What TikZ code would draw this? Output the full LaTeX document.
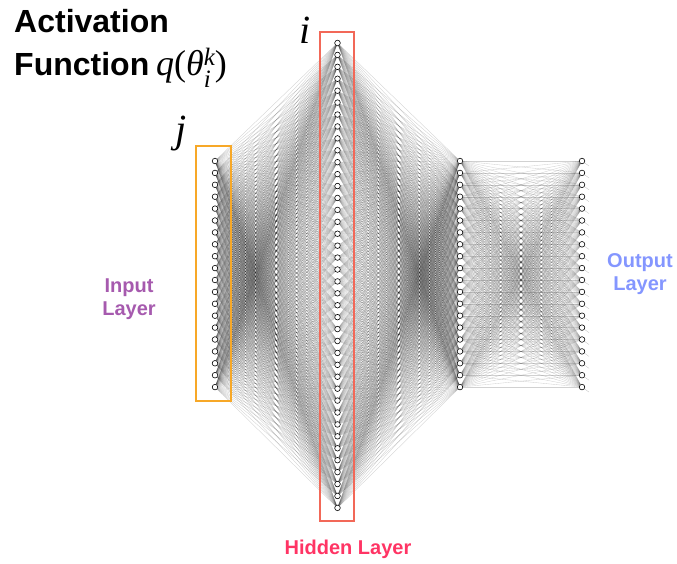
\documentclass[tikz,border=0pt]{standalone}
\usepackage{fontspec}
\newfontfamily\hv{Liberation Sans}
\newfontfamily\tm{Liberation Serif}
\pgfdeclarelayer{background}
\pgfsetlayers{background,main}
\definecolor{inpurple}{RGB}{166,90,174}
\definecolor{outblue}{RGB}{132,150,255}
\definecolor{hidred}{RGB}{255,52,100}
\definecolor{boxorange}{RGB}{247,168,40}
\definecolor{boxred}{RGB}{242,104,88}
\begin{document}
\begin{tikzpicture}[x=1pt,y=-1pt,
  neuron/.style={circle,draw=black,fill=white,line width=0.6pt,minimum size=5.6pt,inner sep=0pt},
  conn/.style={draw=black,line width=0.35pt,opacity=0.18},
  tick/.style={draw=black,line width=0.3pt,opacity=0.25},
  lbl/.style={font=\hv\bfseries\fontsize{20}{23}\selectfont,align=center}]
\useasboundingbox (0,0) rectangle (677,563);
% boxes
\draw[boxorange,line width=1.5pt] (196,146) rectangle (231,401);
\draw[boxred,line width=1.5pt] (320,32) rectangle (354,521);
% neurons
\foreach \k in {1,...,20} {
  \node[neuron] (a\k) at (215,{161+(\k-1)*11.9}) {};
  \node[neuron] (c\k) at (460,{161+(\k-1)*11.9}) {};
  \node[neuron] (d\k) at (582,{161+(\k-1)*11.9}) {};
  \coordinate (t\k) at (589,{166+(\k-1)*11.9});
}
\foreach \k in {1,...,40} {
  \node[neuron] (h\k) at (337.5,{43+(\k-1)*11.92}) {};
}
\begin{pgfonlayer}{background}
\foreach \p in {1,...,20} {
  \foreach \q in {1,...,40} {
    \draw[conn] (a\p) -- (h\q);
    \draw[conn] (h\q) -- (c\p);
  }
  \foreach \q in {1,...,20} {
    \draw[conn] (c\p) -- (d\q);
  }
  \draw[tick] (d\p) -- (t\p);
}
\end{pgfonlayer}
% texts
\node[anchor=base west,inner sep=0pt,font=\hv\bfseries\fontsize{32}{36}\selectfont] (act) at (14,32) {Activation};
\node[anchor=base west,inner sep=0pt,font=\hv\bfseries\fontsize{32}{36}\selectfont] (fun) at (14,75) {Function};
\node[anchor=base west,inner sep=0pt,font=\tm\fontsize{36}{40}\selectfont] (qf) at (156,75)
  {\itshape q\upshape(\itshape θ\rlap{\raisebox{-12pt}{\fontsize{25}{25}\selectfont i}}\raisebox{10pt}{\fontsize{25}{25}\selectfont k}\upshape)};
\node[anchor=base,inner sep=0pt,font=\tm\itshape\fontsize{40}{44}\selectfont] (jl) at (181,142) {j};
\node[anchor=base,inner sep=0pt,font=\tm\itshape\fontsize{40}{44}\selectfont] (il) at (305,43) {i};
\node[lbl,text=inpurple] (inl) at (129,299) {Input\\Layer};
\node[lbl,text=outblue] (outl) at (640,274) {Output\\Layer};
\node[lbl,text=hidred,anchor=base] (hidl) at (348,554) {Hidden Layer};
\end{tikzpicture}
\end{document}
